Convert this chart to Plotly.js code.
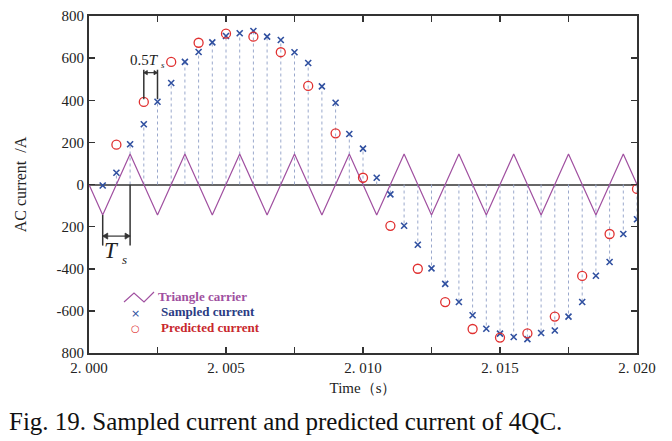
<!DOCTYPE html>
<html>
<head>
<meta charset="utf-8">
<script src="https://cdn.plot.ly/plotly-3.0.1.min.js"></script>
<style>html,body{margin:0;padding:0;background:#fff;}</style>
</head>
<body>
<div id="chart" style="width:672px;height:441px;"></div>
<script>
// Sampled current (every 0.5 ms)
const sampledT = [2.0005,2.0010,2.0015,2.0020,2.0025,2.0030,2.0035,2.0040,2.0045,2.0050,
  2.0055,2.0060,2.0065,2.0070,2.0075,2.0080,2.0085,2.0090,2.0095,2.0100,
  2.0105,2.0110,2.0115,2.0120,2.0125,2.0130,2.0135,2.0140,2.0145,2.0150,
  2.0155,2.0160,2.0165,2.0170,2.0175,2.0180,2.0185,2.0190,2.0195,2.0200];
const sampledI = [-5,56,191,286,393,482,582,629,675,705,
  718,729,702,686,628,577,466,388,240,170,
  32,-47,-196,-286,-398,-472,-558,-621,-685,-708,
  -724,-734,-705,-693,-627,-558,-433,-368,-235,-165];
// Predicted current (every 1 ms)
const predT = [2.001,2.002,2.003,2.004,2.005,2.006,2.007,2.008,2.009,2.010,
  2.011,2.012,2.013,2.014,2.015,2.016,2.017,2.018,2.019,2.020];
const predI = [189,392,582,673,716,702,628,468,243,32,
  -196,-400,-558,-686,-727,-707,-627,-434,-235,-21];
// Triangle carrier vertices
const carrierT = [2.0000,2.0005,2.0015,2.0025,2.0035,2.0045,2.0055,2.0065,2.0075,2.0085,2.0095,
  2.0105,2.0115,2.0125,2.0135,2.0145,2.0155,2.0165,2.0175,2.0185,2.0195,2.0200];
const carrierV = [0,-145,145,-145,145,-145,145,-145,145,-145,145,
  -145,145,-145,145,-145,145,-145,145,-145,145,0];
// Axis ticks
const xTickVals = [2.000,2.005,2.010,2.015,2.020];
const xTickText = ['2. 000','2. 005','2. 010','2. 015','2. 020'];
const xMinorVals = [2.0025,2.0075,2.0125,2.0175];
const yTickVals = [800,600,400,200,0,-200,-400,-600,-800];
const yTickText = ['800','600','400','200','0','200','-400','-600','800'];

// stems from zero to each sampled value
const stemX = [], stemY = [];
sampledT.forEach((t,i)=>{ stemX.push(t,t,null); stemY.push(0,sampledI[i],null); });

const serif = 'Liberation Serif, Times New Roman, serif';
const traces = [
  {x: stemX, y: stemY, mode:'lines', line:{color:'#9aa8cc', width:1, dash:'dot'}, hoverinfo:'skip', showlegend:false},
  {x: carrierT, y: carrierV, mode:'lines', line:{color:'#a050a0', width:1.2}, name:'Triangle carrier', showlegend:false},
  {x: sampledT, y: sampledI, mode:'markers', marker:{symbol:'x-thin', size:6, line:{color:'#3050a0', width:1.6}}, name:'Sampled current', showlegend:false},
  {x: predT, y: predI, mode:'markers', marker:{symbol:'circle-open', size:9, color:'#e03030', line:{color:'#e03030', width:1.3}}, name:'Predicted current', showlegend:false}
];

const dark = '#333';
const px = v => (v-89)/548;      // pixel -> paper x
const py = v => (353-v)/337;     // pixel -> paper y
const DX = 0.001/27.4;           // data x per pixel
const DY = 1600/337;             // data y per pixel
function dblArrow(x0, x1, y, head){
  const hl = head*DX, hh = head*0.6*DY;
  return [
    {type:'line', xref:'x', yref:'y', x0:x0, x1:x1, y0:y, y1:y, line:{color:dark, width:1.2}},
    {type:'path', xref:'x', yref:'y', path:`M ${x0} ${y} L ${x0+hl} ${y+hh} L ${x0+hl} ${y-hh} Z`, fillcolor:dark, line:{color:dark, width:0.8}},
    {type:'path', xref:'x', yref:'y', path:`M ${x1} ${y} L ${x1-hl} ${y+hh} L ${x1-hl} ${y-hh} Z`, fillcolor:dark, line:{color:dark, width:0.8}}
  ];
}
function note(x, y, text, size, xanchor){
  return {xref:'paper', yref:'paper', x:px(x), y:py(y), xanchor:xanchor||'center', yanchor:'middle', borderpad:0, text:text, showarrow:false, font:{family:serif, size:size, color:'#222'}};
}
const layout = {
  width:672, height:441,
  margin:{l:89, r:35, t:16, b:88},
  paper_bgcolor:'#fff', plot_bgcolor:'#fff',
  font:{family:serif, color:'#222', size:14},
  title:{text:'Fig. 19. Sampled current and predicted current of 4QC.', xref:'container', yref:'container',
    x:9/672, xanchor:'left', y:1-421/441, yanchor:'middle', font:{family:serif, size:25, color:'#111'}},
  xaxis:{range:[2.000,2.020], tickvals:xTickVals, ticktext:xTickText, ticks:'inside', ticklen:6, tickwidth:1.5, tickcolor:dark,
    minor:{tickvals:xMinorVals, ticks:'inside', ticklen:6, tickwidth:1.5, tickcolor:dark, showgrid:false},
    showline:true, linecolor:dark, linewidth:2, mirror:'ticks', showgrid:false, zeroline:false,
    tickfont:{family:serif, size:15, color:'#222'},
    title:{text:'Time（s）', font:{family:serif, size:15, color:'#222'}, standoff:7}},
  yaxis:{range:[-800,800], tickvals:yTickVals, ticktext:yTickText, ticks:'inside', ticklen:6, tickwidth:1.5, tickcolor:dark,
    showline:true, linecolor:dark, linewidth:2, mirror:'ticks', showgrid:false,
    zeroline:true, zerolinecolor:'#666', zerolinewidth:2,
    tickfont:{family:serif, size:15, color:'#222'},
    title:{text:'AC current  /A', font:{family:serif, size:16, color:'#222'}, standoff:26}},
  shapes:[
    {type:'line', xref:'x', yref:'y', x0:2.0005, x1:2.0005, y0:-145, y1:-290, line:{color:dark, width:1.5}},
    {type:'line', xref:'x', yref:'y', x0:2.0015, x1:2.0015, y0:0, y1:-290, line:{color:dark, width:1.5}},
    {type:'line', xref:'x', yref:'y', x0:2.002, x1:2.002, y0:405, y1:545, line:{color:dark, width:1.5}},
    {type:'line', xref:'x', yref:'y', x0:2.0025, x1:2.0025, y0:405, y1:545, line:{color:dark, width:1.5}},
    ...dblArrow(2.0005, 2.0015, -245, 5),
    ...dblArrow(2.002, 2.0025, 531, 3.5),
    {type:'path', xref:'paper', yref:'paper',
      path:`M ${px(124)} ${py(302)} L ${px(134)} ${py(293)} L ${px(144)} ${py(302)} L ${px(154)} ${py(292)}`,
      line:{color:'#a050a0', width:1.2}}
  ],
  annotations:[
    note(120, 250, '<i>T</i>', 23, 'right'),
    note(120.5, 259, '<i>s</i>', 13, 'left'),
    note(159.5, 60, '0.5<i>T</i>', 15, 'right'),
    note(160, 65, '<i>s</i>', 9, 'left'),
    // legend
    {xref:'paper', yref:'paper', x:px(156), y:py(296), xanchor:'left', yanchor:'middle', text:'<b>Triangle carrier</b>', showarrow:false, font:{family:serif, size:13, color:'#a050a0'}},
    {xref:'paper', yref:'paper', x:px(159), y:py(311), xanchor:'left', yanchor:'middle', text:'<b>Sampled current</b>', showarrow:false, font:{family:serif, size:13, color:'#2a3c84'}},
    {xref:'paper', yref:'paper', x:px(159), y:py(327), xanchor:'left', yanchor:'middle', text:'<b>Predicted current</b>', showarrow:false, font:{family:serif, size:13, color:'#c8282d'}},
    {xref:'paper', yref:'paper', x:px(135), y:py(313), xanchor:'center', yanchor:'middle', text:'×', showarrow:false, font:{family:'DejaVu Sans', size:11, color:'#3050a0'}},
    {xref:'paper', yref:'paper', x:px(135), y:py(328), xanchor:'center', yanchor:'middle', text:'○', showarrow:false, font:{family:'DejaVu Sans', size:10, color:'#e03030'}}
  ]
};
Plotly.newPlot('chart', traces, layout, {displayModeBar:false, staticPlot:true});
</script>
</body>
</html>
